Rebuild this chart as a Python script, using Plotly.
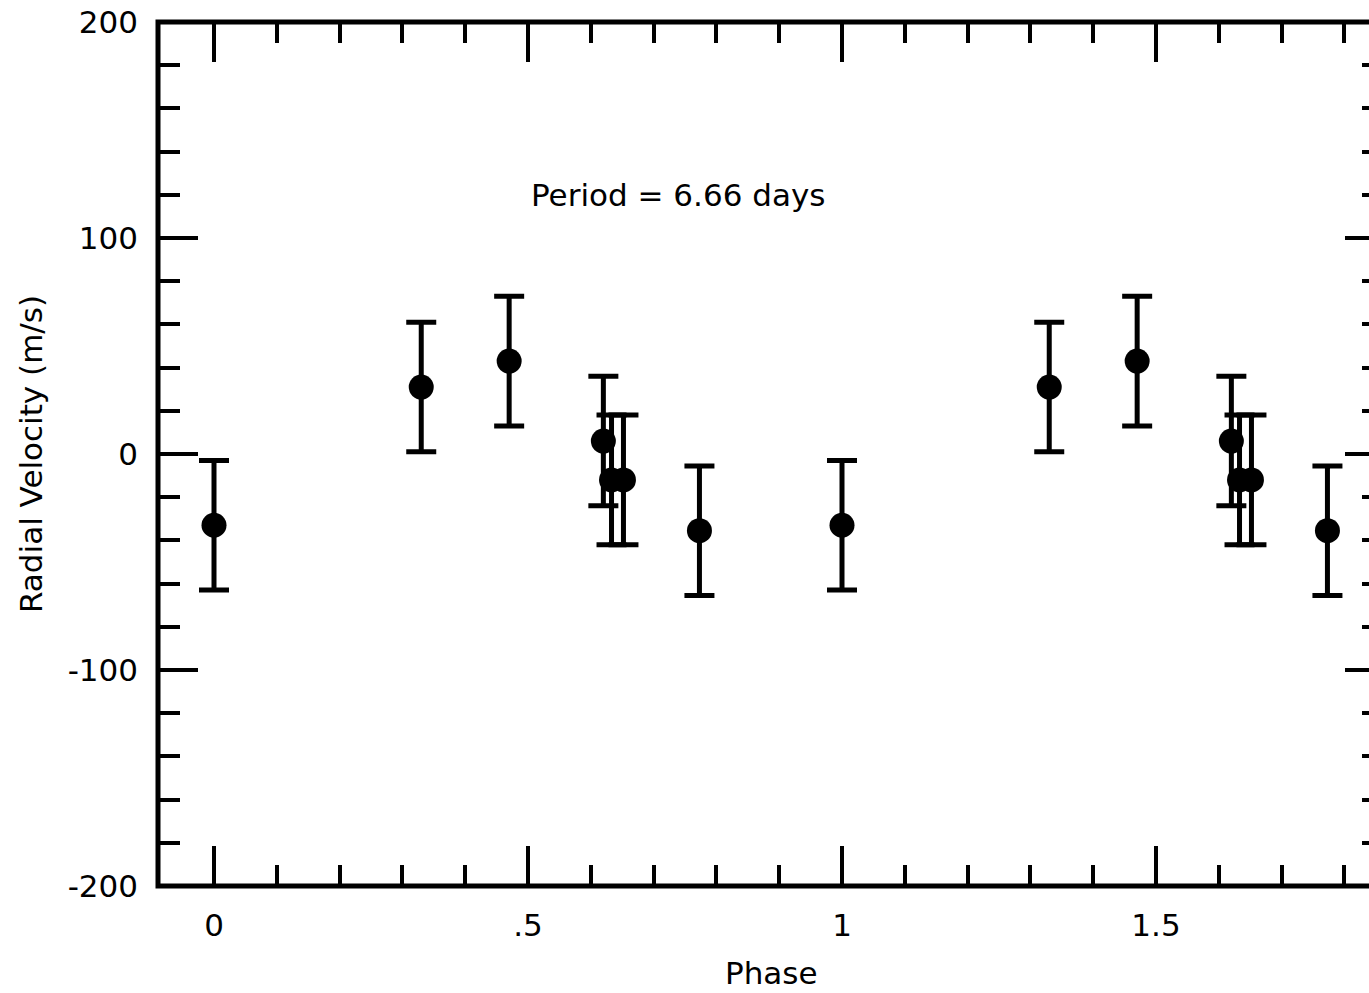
import plotly.graph_objects as go

# Phase-folded radial velocity measurements (two cycles shown)
phase = [0.000, 0.330, 0.470, 0.620, 0.633, 0.652, 0.773,
         1.000, 1.330, 1.470, 1.620, 1.633, 1.652, 1.773]
velocity = [-33, 31, 43, 6, -12, -12, -35.5,
            -33, 31, 43, 6, -12, -12, -35.5]
velocity_err = [30, 30, 30, 30, 30, 30, 30,
                30, 30, 30, 30, 30, 30, 30]

x_tick_vals = [0, 0.5, 1, 1.5]
x_tick_text = ["0", ".5", "1", "1.5"]
y_tick_vals = [-200, -100, 0, 100, 200]
y_tick_text = ["-200", "-100", "0", "100", "200"]

FONT = "DejaVu Sans"
FS = 31
W, H = 1369, 993
L, R, T, B = 158, 1369, 22, 886

# pixel -> data mapping: phase 0 at 214 px, 628 px per unit
x_range = [(L - 214) / 628, (R - 214) / 628]
y_range = [-200, 200]

fig = go.Figure()
fig.add_trace(go.Scatter(
    x=phase, y=velocity, mode="markers",
    marker=dict(size=25, color="black", symbol="circle"),
    error_y=dict(type="data", array=velocity_err, visible=True,
                 color="black", thickness=5, width=15),
    showlegend=False,
))

tick_font = dict(family=FONT, size=FS, color="black")

fig.update_layout(
    width=W, height=H,
    margin=dict(l=L, r=W - R, t=T, b=H - B, pad=0),
    paper_bgcolor="white", plot_bgcolor="white",
    font=dict(family=FONT, size=FS, color="black"),
    xaxis=dict(
        range=x_range, showgrid=False, zeroline=False, showline=False,
        tickmode="array", tickvals=x_tick_vals, ticktext=x_tick_text,
        ticks="inside", ticklen=40, tickwidth=4, tickcolor="black",
        mirror="ticks", tickfont=tick_font, ticklabelstandoff=18,
        minor=dict(tickmode="linear", tick0=0, dtick=0.1, ticks="inside",
                   ticklen=21, tickwidth=4, tickcolor="black", showgrid=False),
    ),
    yaxis=dict(
        range=y_range, showgrid=False, zeroline=False, showline=False,
        tickmode="array", tickvals=y_tick_vals, ticktext=y_tick_text,
        ticks="inside", ticklen=40, tickwidth=4, tickcolor="black",
        mirror=False, tickfont=tick_font, ticklabelstandoff=19,
        minor=dict(tickmode="linear", tick0=0, dtick=20, ticks="inside",
                   ticklen=22, tickwidth=4, tickcolor="black", showgrid=False),
    ),
    # right-hand tick marks (frame edge lies just past the page)
    yaxis2=dict(
        range=y_range, overlaying="y", side="right", anchor="x",
        showgrid=False, zeroline=False, showline=False, showticklabels=False,
        tickmode="array", tickvals=y_tick_vals,
        ticks="inside", ticklen=24, tickwidth=4, tickcolor="black",
        minor=dict(tickmode="linear", tick0=0, dtick=20, ticks="inside",
                   ticklen=7, tickwidth=4, tickcolor="black", showgrid=False),
    ),
    shapes=[dict(type="path", xref="paper", yref="paper",
                 path="M 1 1 L 0 1 L 0 0 L 1 0",
                 line=dict(color="black", width=5), layer="above")],
    annotations=[
        dict(text="Period = 6.66 days", x=0.739, y=120, xref="x", yref="y",
             showarrow=False, xanchor="center", yanchor="middle",
             font=dict(family=FONT, size=FS, color="black")),
        dict(text="Phase", x=0.887, y=0, xref="x", yref="paper",
             yshift=-87, showarrow=False, xanchor="center", yanchor="middle",
             font=dict(family=FONT, size=FS, color="black")),
        dict(text="Radial Velocity (m/s)", x=0, y=0.5, xref="paper",
             yref="paper", xshift=31 - L, showarrow=False, textangle=-90,
             xanchor="center", yanchor="middle",
             font=dict(family=FONT, size=FS, color="black")),
    ],
)

# empty trace to activate the right-hand axis
fig.add_trace(go.Scatter(x=[None], y=[None], yaxis="y2", showlegend=False,
                         hoverinfo="skip"))

fig.write_html("out.html")
